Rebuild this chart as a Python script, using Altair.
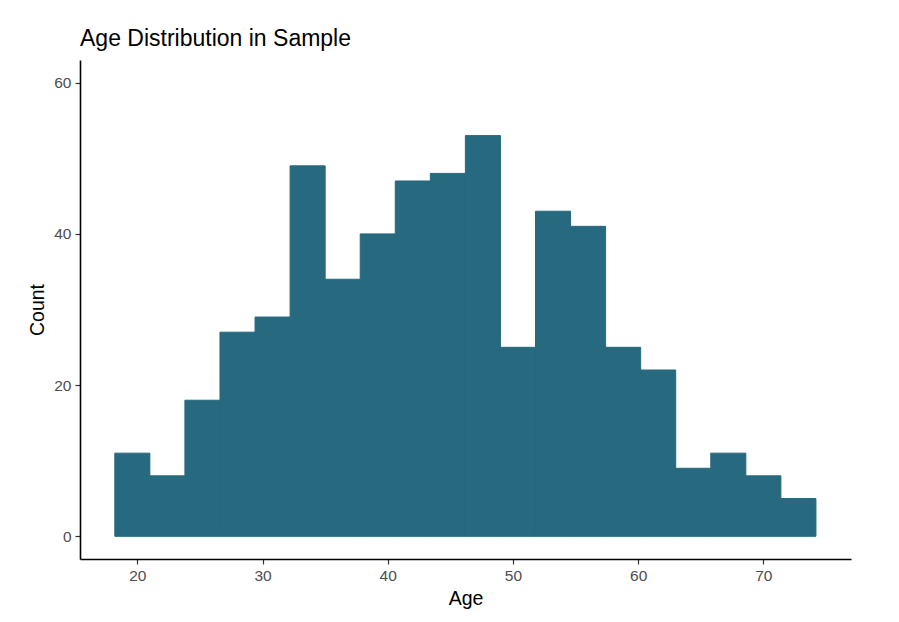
import altair as alt
import pandas as pd

# Histogram bins (Age) and counts
bin_left = [18.2, 21.0, 23.8, 26.6, 29.4, 32.2, 35.0, 37.8, 40.6, 43.4,
            46.2, 49.0, 51.8, 54.6, 57.4, 60.2, 63.0, 65.8, 68.6, 71.4]
bin_right = [21.0, 23.8, 26.6, 29.4, 32.2, 35.0, 37.8, 40.6, 43.4, 46.2,
             49.0, 51.8, 54.6, 57.4, 60.2, 63.0, 65.8, 68.6, 71.4, 74.2]
counts = [11, 8, 18, 27, 29, 49, 34, 40, 47, 48,
          53, 25, 43, 41, 25, 22, 9, 11, 8, 5]

x_ticks = [20, 30, 40, 50, 60, 70]
y_ticks = [0, 20, 40, 60]

df = pd.DataFrame({"left": bin_left, "right": bin_right, "count": counts})

FONT = "Liberation Sans"

chart = alt.Chart(df).mark_bar(
    color="#27697E", stroke="#27697E", strokeWidth=1
).encode(
    x=alt.X("left:Q",
            scale=alt.Scale(domain=[15.42, 77.0], nice=False, zero=False),
            axis=alt.Axis(title="Age", values=x_ticks, format="d")),
    x2="right:Q",
    y=alt.Y("count:Q",
            scale=alt.Scale(domain=[-3, 63], nice=False, zero=False),
            axis=alt.Axis(title="Count", values=y_ticks, format="d")),
    y2=alt.Y2(datum=0),
).properties(
    width=771,
    height=499,
    title=alt.TitleParams("Age Distribution in Sample", anchor="start",
                          frame="group", fontSize=23, font=FONT,
                          fontWeight="normal", color="black",
                          baseline="alphabetic", offset=15, dy=24),
    autosize=alt.AutoSizeParams(type="none"),
    padding={"left": 72, "top": 52, "right": 20, "bottom": 50},
).configure_view(
    stroke=None
).configure_axis(
    grid=False,
    domainColor="black",
    domainWidth=1.6,
    tickColor="#333333",
    tickWidth=1.2,
    tickSize=5,
    labelFont=FONT,
    labelFontSize=15.5,
    labelColor="#4D4D4D",
    labelPadding=4,
    titleFont=FONT,
    titleFontSize=19.5,
    titleFontWeight="normal",
    titleColor="black",
).configure_axisX(
    titlePadding=6,
).configure_axisY(
    titlePadding=6,
)

chart.save("out.html", embed_options={"renderer": "svg", "actions": False})
